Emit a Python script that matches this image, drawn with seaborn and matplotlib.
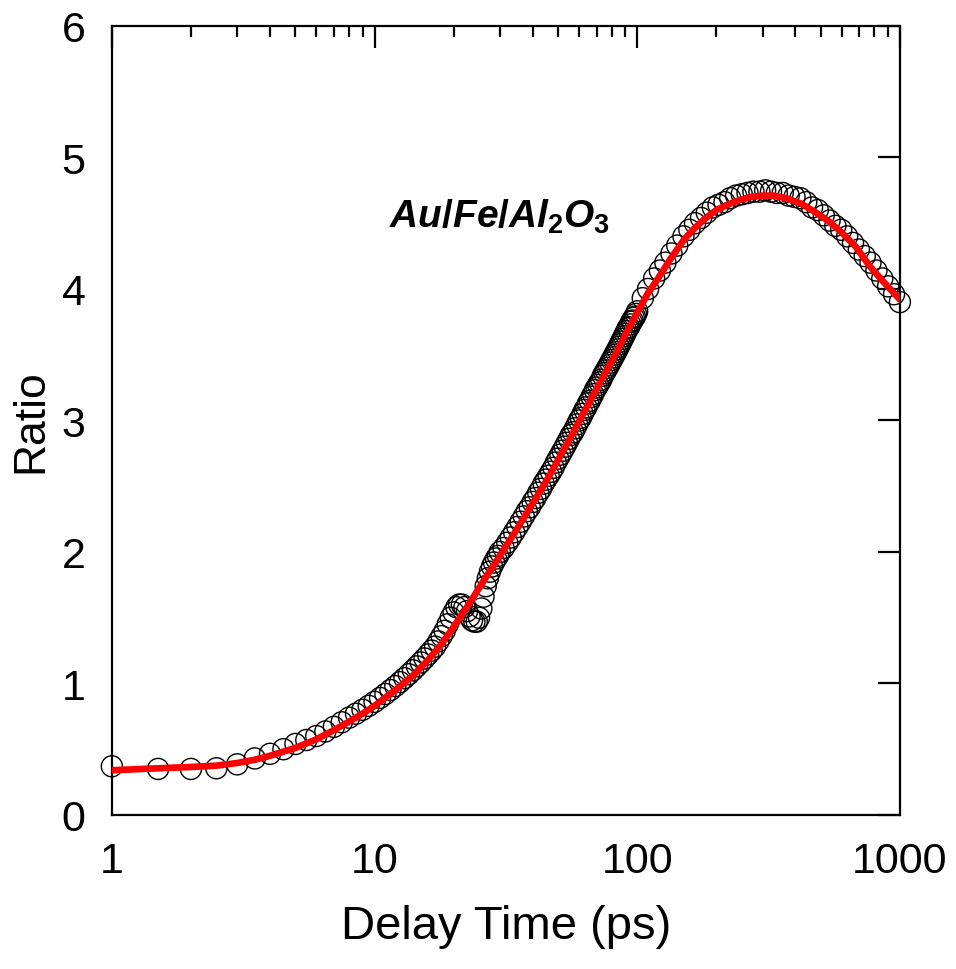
import matplotlib
matplotlib.use("Agg")
import matplotlib.pyplot as plt
import seaborn as sns
from matplotlib.ticker import FixedLocator, NullLocator, LogLocator

sns.set_style("white")
plt.rcParams['font.family'] = ['Liberation Sans', 'DejaVu Sans']
plt.rcParams['text.color'] = 'black'
plt.rcParams['axes.labelcolor'] = 'black'
plt.rcParams['mathtext.fontset'] = 'custom'
plt.rcParams['mathtext.it'] = 'Liberation Sans:italic:bold'
plt.rcParams['mathtext.rm'] = 'Liberation Sans:bold'

# measured data (delay in ps, ratio)
delay_ps = [
    1.0, 1.5, 2.0, 2.5, 3.0, 3.5, 4.0, 4.5, 5.0, 5.5,
    6.0, 6.5, 7.0, 7.5, 8.0, 8.5, 9.0, 9.5, 10.0, 10.5,
    11.0, 11.5, 12.0, 12.5, 13.0, 13.5, 14.0, 14.5, 15.0, 15.5,
    16.0, 16.5, 17.0, 17.5, 18.0, 18.5, 19.0, 19.5, 20.0, 20.5,
    21.0, 21.5, 22.0, 22.5, 23.0, 23.5, 24.0, 24.5, 25.0, 25.5,
    26.0, 26.5, 27.0, 27.5, 28.0, 28.5, 29.0, 29.5, 30.0,
    31, 32, 33, 34, 35, 36, 37, 38, 39, 40,
    41, 42, 43, 44, 45, 46, 47, 48, 49, 50,
    51, 52, 53, 54, 55, 56, 57, 58, 59, 60,
    61, 62, 63, 64, 65, 66, 67, 68, 69, 70,
    71, 72, 73, 74, 75, 76, 77, 78, 79, 80,
    81, 82, 83, 84, 85, 86, 87, 88, 89, 90,
    91, 92, 93, 94, 95, 96, 97, 98, 99, 100,
    105, 110, 116, 122, 128, 135, 142, 150, 158, 166,
    175, 184, 194, 204, 215, 226, 238, 250, 263, 277,
    292, 307, 323, 340, 358, 377, 397, 418, 440, 463,
    487, 513, 540, 568, 598, 630, 663, 698, 735, 773,
    814, 857, 902, 950, 1000,
]
ratio = [
    0.37, 0.35, 0.35, 0.355, 0.385, 0.43, 0.465, 0.50, 0.54, 0.57,
    0.60, 0.635, 0.67, 0.705, 0.74, 0.77, 0.80, 0.83, 0.86, 0.89,
    0.92, 0.95, 0.98, 1.01, 1.04, 1.07, 1.10, 1.13, 1.16, 1.19,
    1.22, 1.25, 1.28, 1.32, 1.36, 1.40, 1.45, 1.50, 1.54, 1.58,
    1.60, 1.60, 1.58, 1.55, 1.51, 1.48, 1.47, 1.47, 1.50, 1.57,
    1.66, 1.74, 1.80, 1.85, 1.89, 1.92, 1.95, 1.97, 2.00,
    2.03, 2.07, 2.11, 2.15, 2.19, 2.23, 2.27, 2.31, 2.34, 2.38,
    2.41, 2.45, 2.48, 2.52, 2.55, 2.58, 2.61, 2.64, 2.68, 2.71,
    2.74, 2.77, 2.80, 2.83, 2.86, 2.89, 2.91, 2.94, 2.97, 3.00,
    3.02, 3.05, 3.08, 3.10, 3.13, 3.15, 3.18, 3.20, 3.23, 3.25,
    3.27, 3.29, 3.31, 3.34, 3.36, 3.38, 3.40, 3.42, 3.44, 3.46,
    3.48, 3.50, 3.52, 3.54, 3.56, 3.58, 3.60, 3.62, 3.64, 3.66,
    3.68, 3.70, 3.71, 3.73, 3.75, 3.76, 3.78, 3.79, 3.81, 3.83,
    3.93, 4.00, 4.08, 4.14, 4.20, 4.27, 4.33, 4.40, 4.45, 4.50,
    4.54, 4.58, 4.62, 4.64, 4.66, 4.69, 4.71, 4.72, 4.73, 4.74,
    4.74, 4.75, 4.74, 4.73, 4.73, 4.71, 4.70, 4.69, 4.66, 4.62,
    4.60, 4.56, 4.52, 4.48, 4.45, 4.40, 4.35, 4.30, 4.25, 4.20,
    4.14, 4.08, 4.02, 3.96, 3.90,
]

# fitted curve
fit_delay = [1, 1.5, 2, 2.5, 3, 3.5, 4, 5, 6, 7, 8, 9, 10, 12, 14, 16, 18, 20,
             23, 26, 30, 35, 40, 46, 53, 60, 70, 80, 90, 100, 110, 120, 133,
             150, 165, 180, 200, 220, 240, 270, 300, 330, 370, 420, 480, 540,
             600, 680, 770, 870, 1000]
fit_ratio = [0.34, 0.355, 0.365, 0.375, 0.395, 0.42, 0.45, 0.51, 0.575, 0.645,
             0.71, 0.77, 0.83, 0.95, 1.06, 1.18, 1.30, 1.43, 1.61, 1.78, 1.97,
             2.18, 2.37, 2.57, 2.79, 2.99, 3.24, 3.45, 3.65, 3.82, 3.97, 4.08,
             4.22, 4.37, 4.46, 4.53, 4.60, 4.64, 4.67, 4.70, 4.71, 4.71, 4.69,
             4.65, 4.58, 4.51, 4.43, 4.32, 4.17, 4.05, 3.92]

x_ticks = [1, 10, 100, 1000]
x_tick_labels = ['1', '10', '100', '1000']
y_ticks = [0, 1, 2, 3, 4, 5, 6]

fig = plt.figure(figsize=(9.56, 9.70), dpi=100)
ax = fig.add_axes([0.117, 0.1588, 0.8243, 0.8134])

sns.scatterplot(x=delay_ps, y=ratio, ax=ax, s=230, marker='o',
                facecolors='none', edgecolor='black', linewidth=1.0,
                clip_on=False, zorder=2)
sns.lineplot(x=fit_delay, y=fit_ratio, ax=ax, color='#ff0000', lw=4.8,
             sort=False, estimator=None, zorder=3)

ax.set_xscale('log')
ax.set_xlim(1, 1000)
ax.set_ylim(0, 6)
ax.xaxis.set_major_locator(FixedLocator(x_ticks))
ax.set_xticklabels(x_tick_labels)
ax.xaxis.set_minor_locator(LogLocator(base=10, subs=range(2, 10)))
ax.set_yticks(y_ticks)
ax.yaxis.set_minor_locator(NullLocator())

ax.tick_params(which='both', direction='in', top=True, right=True,
               labelsize=31, width=1.6, colors='black')
ax.tick_params(which='major', length=16, pad=19)
ax.tick_params(which='minor', length=8)
for sp in ax.spines.values():
    sp.set_linewidth(1.6)
    sp.set_color('black')

ax.set_xlabel('Delay Time (ps)', fontsize=34, labelpad=16)
ax.set_ylabel('Ratio', fontsize=32, labelpad=7)

ax.text(11.4, 4.47, r'$\mathit{Au/Fe/Al_2O_3}$', fontsize=28,
        ha='left', va='baseline')

fig.savefig('out.png', dpi=100)
